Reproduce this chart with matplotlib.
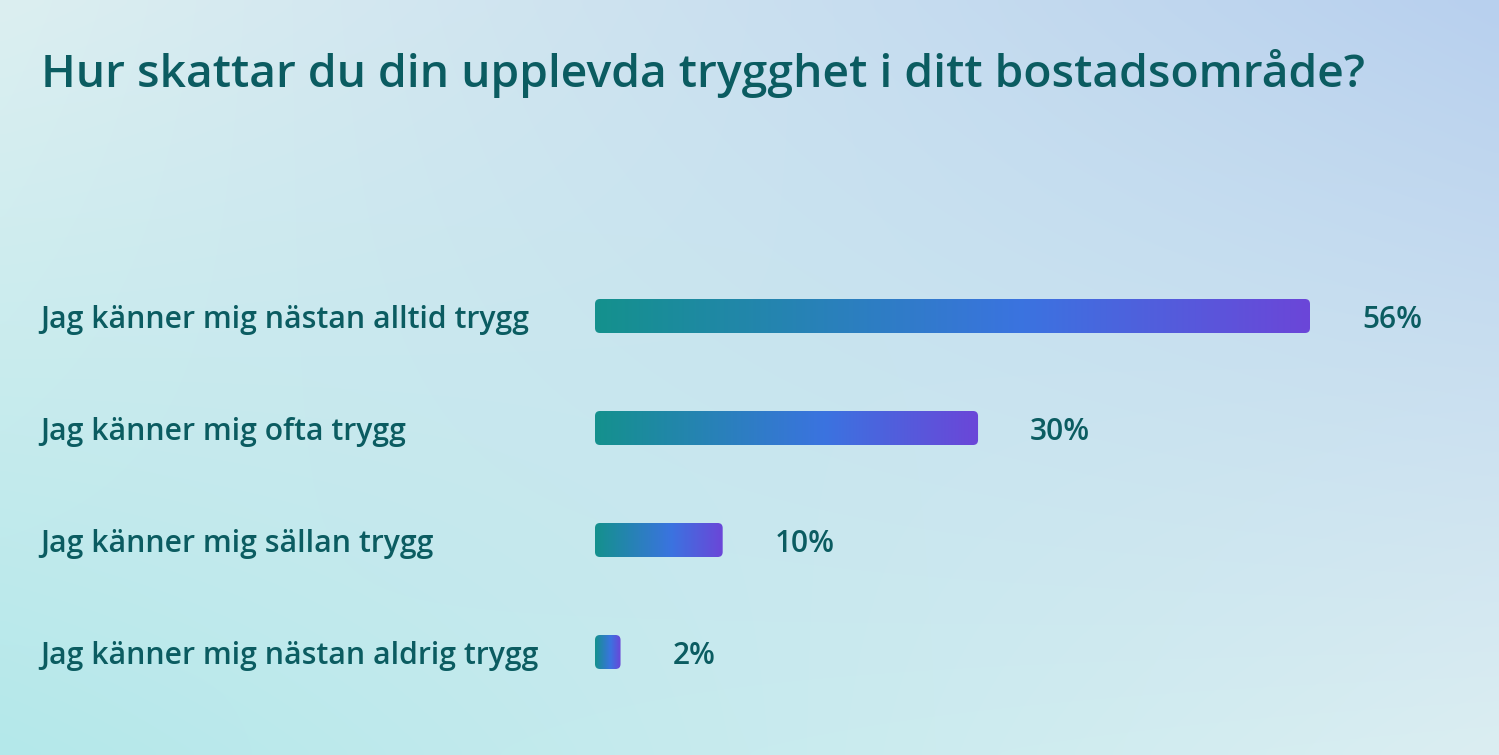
import matplotlib.pyplot as plt
import numpy as np
from matplotlib.colors import LinearSegmentedColormap
from matplotlib.patches import FancyBboxPatch
from matplotlib.transforms import blended_transform_factory

title = "Hur skattar du din upplevda trygghet i ditt bostadsområde?"
categories = [
    "Jag känner mig nästan alltid trygg",
    "Jag känner mig ofta trygg",
    "Jag känner mig sällan trygg",
    "Jag känner mig nästan aldrig trygg",
]
percent = [56, 30, 10, 2]

W, H = 1499, 755
text_color = "#0b5c61"
font = "Open Sans"

fig = plt.figure(figsize=(W / 100, H / 100), dpi=100)

# background gradient (4 corners, bilinear)
bg = fig.add_axes([0, 0, 1, 1])
corners = {
    "tl": np.array([0xdc, 0xef, 0xf1]) / 255,
    "tr": np.array([0xb8, 0xd0, 0xee]) / 255,
    "bl": np.array([0xb4, 0xe8, 0xea]) / 255,
    "br": np.array([0xdb, 0xee, 0xf2]) / 255,
}
gx = np.linspace(0, 1, 200)[None, :, None]
gy = np.linspace(0, 1, 100)[:, None, None]
img = ((1 - gy) * ((1 - gx) * corners["tl"] + gx * corners["tr"])
       + gy * ((1 - gx) * corners["bl"] + gx * corners["br"]))
bg.imshow(img, aspect="auto", extent=(0, 1, 0, 1), interpolation="bicubic")
bg.axis("off")

# bar axes: 0% at x=595px, 12.77 px per percent; rows of 112 px starting at y=260
px_per_pct = 715 / 56
xmax = 70
ax_left, ax_top, row_h = 595, 260, 112
ax = fig.add_axes([ax_left / W, 1 - (ax_top + 4 * row_h) / H,
                   xmax * px_per_pct / W, 4 * row_h / H])
ax.set_xlim(0, xmax)
ax.set_ylim(len(categories) - 0.5, -0.5)
ax.axis("off")
ax.patch.set_alpha(0)

cmap = LinearSegmentedColormap.from_list(
    "bar", [(0, "#14918d"), (0.6, "#3b73e0"), (1, "#6b46d8")])
grad = np.linspace(0, 1, 256)[None, :]
bar_h = 34 / row_h
radius = 5 / px_per_pct
aspect = px_per_pct / row_h
base_off = 12 / row_h  # text baseline below bar centre

for i, v in enumerate(percent):
    patch = FancyBboxPatch((0, i - bar_h / 2), v, bar_h,
                           boxstyle=f"round,pad=0,rounding_size={radius}",
                           mutation_aspect=aspect, facecolor="none",
                           edgecolor="none")
    ax.add_patch(patch)
    im = ax.imshow(grad, cmap=cmap, aspect="auto",
                   extent=(0, v, i + bar_h / 2, i - bar_h / 2))
    im.set_clip_path(patch)
    ax.annotate(f"{v}%", (v, i + base_off), xytext=(52, 0),
                textcoords="offset pixels", ha="left", va="baseline",
                fontsize=21.5, color=text_color, family=font,
                weight="semibold")

trans = blended_transform_factory(fig.transFigure, ax.transData)
for i, c in enumerate(categories):
    ax.text(40 / W, i + base_off, c, transform=trans, ha="left",
            va="baseline", fontsize=21.7, color=text_color, family=font,
            weight="semibold")

fig.text(41 / W, 1 - 87 / H, title, ha="left", va="baseline", fontsize=33.3,
         color=text_color, family=font, weight="semibold")

fig.savefig("out.png", dpi=100)
